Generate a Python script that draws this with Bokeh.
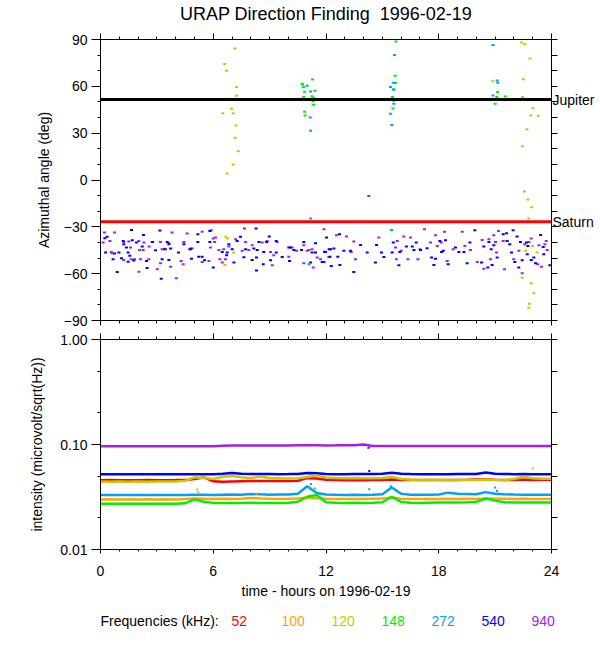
from bokeh.plotting import figure
from bokeh.models import Range1d, LinearAxis, LogAxis, FixedTicker, PrintfTickFormatter, Span, ColumnDataSource
from bokeh.core.properties import value
from bokeh.layouts import column
from bokeh.embed import file_html
from bokeh.resources import INLINE

# ---------------- data ----------------
TITLE = "URAP Direction Finding\u00a0 1996-02-19"
LEGEND_TITLE = "Frequencies (kHz):"
FREQS = ["52", "100", "120", "148", "272", "540", "940"]
COLORS = ["#ff0000", "#ffa500", "#c8c800", "#00ee00", "#00a0ff", "#0000ff", "#a020f0"]
JUPITER_DEG = 51.5
SATURN_DEG = -26.8

ANG_TICKS = [-90, -60, -30, 0, 30, 60, 90]
ANG_MINOR = [-90, -80, -70, -60, -50, -40, -30, -20, -10, 0, 10, 20, 30, 40, 50, 60, 70, 80, 90]
HOUR_TICKS = [0, 6, 12, 18, 24]
HOUR_MINOR = [0, 1, 2, 3, 4, 5, 6, 7, 8, 9, 10, 11, 12, 13, 14, 15, 16, 17, 18, 19, 20, 21, 22, 23, 24]
INT_TICKS = [0.01, 0.1, 1.0]
INT_MINOR = [0.02, 0.05, 0.2, 0.5]

# direction finding points: (hour, azimuth deg)
DF_540 = [
    (1.65, -32.0), (3.16, -32.4), (2.29, -35.2), (5.18, -34.7), (5.82, -32.6), (8.28, -31.1), (8.98, -36.2),
    (0.35, -36.4), (0.23, -37.3), (1.21, -39.0), (1.69, -38.6), (1.92, -40.1), (1.24, -41.2), (2.77, -39.7),
    (3.55, -39.7), (3.64, -41.2), (4.44, -41.2), (5.18, -39.7), (5.82, -39.7), (6.83, -41.2), (7.27, -39.0),
    (7.45, -36.4), (8.43, -39.7), (8.84, -39.7), (9.35, -39.0), (10.02, -43.3), (10.82, -39.7), (11.44, -40.5),
    (12.03, -36.9), (12.17, -44.4), (0.27, -46.5), (0.75, -47.1), (0.98, -46.5), (1.47, -46.5), (1.56, -48.6),
    (1.38, -43.3), (2.22, -42.6), (2.93, -45.0), (3.41, -44.4), (3.73, -43.9), (4.15, -46.5), (4.79, -44.4),
    (5.23, -49.1), (5.41, -49.1), (6.48, -46.1), (6.74, -46.5), (6.71, -48.2), (7.01, -44.4), (7.72, -44.4),
    (8.16, -43.9), (8.34, -44.8), (8.69, -46.1), (9.35, -46.5), (9.67, -49.3), (10.11, -43.3), (10.29, -44.8),
    (10.70, -44.8), (11.26, -46.5), (11.44, -46.5), (11.97, -46.1), (12.21, -49.1), (0.67, -50.8), (1.12, -50.1),
    (1.47, -52.3), (1.77, -51.6), (2.45, -51.9), (3.28, -50.8), (3.64, -51.2), (4.84, -50.4), (5.54, -51.4),
    (6.00, -56.1), (7.10, -52.9), (7.63, -49.5), (8.07, -51.2), (8.30, -49.7), (9.05, -51.4), (8.66, -54.0),
    (10.06, -51.9), (11.18, -52.9), (11.89, -52.5), (0.89, -58.9), (3.23, -63.2), (2.48, -56.4), (8.30, -57.9),
    (12.72, -34.7), (11.92, -45.9), (12.24, -44.4), (12.42, -43.9), (12.63, -49.1), (12.95, -45.4), (13.30, -45.4),
    (11.80, -52.5), (12.28, -55.1), (12.74, -54.4), (13.48, -58.9), (13.84, -41.6), (14.19, -46.5), (14.63, -52.9),
    (14.69, -41.6), (14.95, -46.5), (15.08, -49.3), (15.52, -46.5), (15.58, -40.1), (15.93, -46.1), (15.88, -54.6),
    (16.28, -42.6), (16.59, -42.6), (16.68, -44.8), (16.80, -40.1), (17.03, -44.8), (17.38, -43.7), (17.62, -49.7),
    (17.83, -50.4), (17.74, -54.4), (18.06, -39.0), (18.15, -46.1), (18.24, -45.4), (18.50, -54.0), (18.36, -38.6),
    (18.89, -43.3), (19.07, -46.1), (19.34, -46.1), (19.51, -53.4), (19.66, -40.1), (19.92, -32.2), (20.28, -52.9),
    (20.40, -42.6), (20.67, -39.7), (20.79, -44.4), (20.93, -41.8), (20.61, -56.1), (20.84, -54.4), (21.11, -49.7),
    (21.43, -34.7), (21.61, -34.1), (21.64, -39.0), (21.96, -32.2), (21.78, -41.2), (21.87, -46.5), (22.17, -36.2),
    (22.26, -56.1), (22.35, -39.7), (22.44, -51.4), (22.67, -40.1), (22.74, -42.2), (22.71, -47.6), (22.92, -51.2),
    (23.06, -49.7), (23.15, -53.4), (23.42, -35.2), (23.56, -42.9), (23.59, -47.6), (23.91, -54.6), (22.05, -52.5),
]
DF_940 = [
    (0.21, -33.7), (0.75, -33.7), (3.81, -33.7), (4.61, -34.3), (5.41, -33.2), (5.89, -32.2), (7.66, -31.1),
    (11.89, -31.5), (6.12, -36.9), (0.14, -40.1), (0.50, -39.0), (1.24, -39.7), (1.51, -39.4), (2.04, -39.0),
    (2.31, -40.1), (2.75, -39.7), (3.19, -39.7), (3.64, -40.5), (4.44, -39.7), (4.79, -43.9), (6.07, -39.7),
    (6.00, -37.5), (6.83, -42.6), (7.19, -37.9), (7.72, -39.7), (8.07, -41.8), (8.60, -40.1), (8.87, -39.0),
    (9.40, -39.7), (10.20, -43.3), (10.82, -41.8), (11.09, -44.8), (11.26, -44.4), (0.57, -46.1), (0.62, -46.9),
    (1.60, -43.3), (2.08, -44.8), (2.27, -44.8), (2.59, -42.6), (3.28, -44.4), (3.46, -44.4), (4.74, -44.4),
    (4.88, -43.9), (5.85, -43.3), (6.30, -44.8), (6.56, -44.4), (6.65, -50.8), (7.54, -45.4), (7.89, -44.8),
    (9.05, -46.1), (9.22, -48.2), (10.02, -49.1), (10.43, -45.4), (11.00, -45.4), (11.53, -49.7), (11.71, -50.8),
    (12.15, -49.3), (1.24, -51.2), (1.63, -50.8), (1.81, -50.8), (2.13, -50.8), (2.57, -50.8), (3.19, -53.4),
    (3.73, -55.5), (4.29, -51.9), (4.40, -54.0), (5.41, -52.5), (5.77, -51.9), (6.35, -50.8), (6.48, -52.9),
    (9.14, -54.6), (10.82, -53.4), (11.32, -56.1), (2.04, -58.7), (4.04, -63.0), (3.02, -57.2),
    (12.56, -35.4), (13.09, -36.2), (13.48, -39.4), (13.34, -46.1), (13.57, -50.8), (14.81, -36.9), (15.79, -39.0),
    (15.75, -50.8), (15.70, -43.3), (16.00, -45.4), (16.14, -36.2), (16.50, -36.9), (16.36, -50.8), (16.89, -50.8),
    (17.00, -44.4), (17.24, -31.5), (17.83, -35.4), (18.31, -33.2), (17.56, -40.1), (17.92, -42.2), (18.13, -40.1),
    (18.45, -51.9), (18.77, -44.4), (19.25, -33.2), (19.39, -42.2), (19.69, -44.8), (20.05, -52.5), (20.31, -38.4),
    (20.40, -56.8), (20.67, -37.9), (20.76, -50.8), (20.93, -35.4), (21.02, -39.7), (21.18, -32.6), (21.07, -46.5),
    (21.43, -39.0), (21.50, -57.2), (21.99, -50.8), (22.26, -45.4), (22.44, -59.8), (22.57, -41.2), (22.80, -39.7),
    (22.92, -37.5), (23.33, -41.8), (23.65, -41.2), (23.77, -44.8), (23.72, -39.0), (23.27, -54.0), (23.47, -55.5),
    (14.28, -10.2),
]
DF_120 = [
    (7.15, 84.2), (6.60, 74.3), (6.71, 70.0), (7.24, 59.5), (7.24, 54.0), (6.97, 45.6), (6.51, 42.8), (7.06, 42.8),
    (7.20, 34.9), (7.17, 27.0), (7.33, 18.4), (7.06, 10.0), (6.74, 4.2), (6.67, -36.4), (6.76, -37.5), (7.09, -46.5),
    (6.62, -54.4), (20.88, 63.2), (22.41, 88.0), (22.58, 87.0), (22.85, 77.8), (22.50, 64.5), (22.46, 53.1),
    (23.01, 46.0), (22.90, 41.3), (23.29, 41.1), (22.69, 32.5), (22.46, 21.6), (22.56, -7.3), (22.74, -12.5),
    (22.94, -17.4), (22.79, -24.7), (22.44, -62.6), (22.92, -66.2), (23.06, -72.6), (22.82, -79.3), (22.79, -81.9),
    (22.62, -45.4), (23.24, -46.5), (22.99, -42.2),
]
DF_148 = [
    (10.75, 61.2), (10.80, 59.5), (11.28, 64.3), (10.86, 56.6), (11.41, 57.2), (10.82, 53.1), (11.25, 53.7),
    (11.35, 52.7), (11.31, 50.5), (11.34, 48.2), (10.86, 43.7), (10.89, 41.3), (10.73, 61.7), (15.72, 88.7),
    (15.68, 66.8), (15.70, 62.1), (15.58, 58.2), (15.54, 53.1), (15.61, 50.8), (15.56, 45.8), (21.13, 56.3),
    (21.09, 53.1), (21.54, 53.5), (21.00, 48.8),
]
DF_272 = [
    (11.00, 60.4), (11.18, 56.7), (11.13, 51.8), (11.16, 40.0), (11.18, 31.5), (11.18, -24.7), (11.09, -54.0),
    (15.65, 80.1), (15.58, 62.3), (15.43, 59.5), (15.61, 57.8), (15.61, 48.8), (15.43, 42.4), (15.50, 35.3),
    (15.49, -32.1), (20.89, 86.5), (21.11, 63.8), (21.14, 62.3), (20.88, 54.2),
]

# intensity series (microvolt/sqrt(Hz)) every half hour
HOURS = [0.0, 0.5, 1.0, 1.5, 2.0, 2.5, 3.0, 3.5, 4.0, 4.5, 5.0, 5.5,
         6.0, 6.5, 7.0, 7.5, 8.0, 8.5, 9.0, 9.5, 10.0, 10.5, 11.0, 11.5,
         12.0, 12.5, 13.0, 13.5, 14.0, 14.5, 15.0, 15.5, 16.0, 16.5, 17.0, 17.5,
         18.0, 18.5, 19.0, 19.5, 20.0, 20.5, 21.0, 21.5, 22.0, 22.5, 23.0, 23.5, 24.0]
I_52 = [0.0457, 0.0458, 0.0457, 0.0456, 0.0457, 0.0458, 0.0457, 0.0457, 0.0458, 0.0460, 0.0468, 0.0486,
        0.0446, 0.0443, 0.0445, 0.0447, 0.0448, 0.0449, 0.0448, 0.0449, 0.0450, 0.0452, 0.0478, 0.0474,
        0.0462, 0.0458, 0.0457, 0.0458, 0.0457, 0.0458, 0.0460, 0.0465, 0.0460, 0.0458, 0.0459, 0.0458,
        0.0459, 0.0458, 0.0460, 0.0461, 0.0463, 0.0465, 0.0462, 0.0460, 0.0459, 0.0463, 0.0460, 0.0461, 0.0461]
I_100 = [0.0300, 0.0301, 0.0300, 0.0301, 0.0300, 0.0301, 0.0300, 0.0301, 0.0300, 0.0302, 0.0306, 0.0304,
         0.0303, 0.0304, 0.0303, 0.0305, 0.0310, 0.0306, 0.0304, 0.0303, 0.0304, 0.0306, 0.0312, 0.0308,
         0.0304, 0.0303, 0.0302, 0.0303, 0.0302, 0.0304, 0.0306, 0.0312, 0.0305, 0.0303, 0.0302, 0.0303,
         0.0303, 0.0304, 0.0303, 0.0304, 0.0303, 0.0306, 0.0305, 0.0304, 0.0303, 0.0304, 0.0303, 0.0303, 0.0303]
I_120 = [0.0444, 0.0443, 0.0444, 0.0443, 0.0444, 0.0443, 0.0444, 0.0445, 0.0445, 0.0452, 0.0487, 0.0480,
         0.0470, 0.0492, 0.0500, 0.0488, 0.0478, 0.0496, 0.0480, 0.0476, 0.0474, 0.0478, 0.0490, 0.0508,
         0.0484, 0.0480, 0.0478, 0.0479, 0.0478, 0.0476, 0.0480, 0.0492, 0.0470, 0.0462, 0.0460, 0.0458,
         0.0458, 0.0457, 0.0459, 0.0458, 0.0460, 0.0462, 0.0458, 0.0457, 0.0470, 0.0492, 0.0478, 0.0472, 0.0473]
I_148 = [0.0272, 0.0273, 0.0272, 0.0273, 0.0272, 0.0273, 0.0272, 0.0273, 0.0273, 0.0275, 0.0300, 0.0285,
         0.0278, 0.0277, 0.0278, 0.0277, 0.0279, 0.0278, 0.0277, 0.0278, 0.0279, 0.0285, 0.0318, 0.0330,
         0.0282, 0.0279, 0.0278, 0.0279, 0.0278, 0.0279, 0.0282, 0.0318, 0.0284, 0.0279, 0.0278, 0.0279,
         0.0280, 0.0280, 0.0281, 0.0282, 0.0284, 0.0306, 0.0292, 0.0282, 0.0280, 0.0281, 0.0280, 0.0280, 0.0280]
I_272 = [0.0330, 0.0331, 0.0330, 0.0331, 0.0330, 0.0331, 0.0330, 0.0331, 0.0330, 0.0331, 0.0333, 0.0332,
         0.0331, 0.0333, 0.0334, 0.0333, 0.0338, 0.0335, 0.0333, 0.0334, 0.0334, 0.0340, 0.0400, 0.0345,
         0.0334, 0.0332, 0.0331, 0.0332, 0.0331, 0.0333, 0.0336, 0.0390, 0.0340, 0.0333, 0.0332, 0.0333,
         0.0334, 0.0348, 0.0340, 0.0338, 0.0336, 0.0352, 0.0340, 0.0336, 0.0334, 0.0333, 0.0332, 0.0332, 0.0332]
I_540 = [0.0521, 0.0522, 0.0521, 0.0521, 0.0522, 0.0521, 0.0521, 0.0522, 0.0521, 0.0521, 0.0522, 0.0521,
         0.0522, 0.0526, 0.0534, 0.0527, 0.0524, 0.0523, 0.0523, 0.0522, 0.0523, 0.0525, 0.0535, 0.0532,
         0.0524, 0.0522, 0.0522, 0.0523, 0.0524, 0.0523, 0.0526, 0.0538, 0.0527, 0.0523, 0.0522, 0.0522,
         0.0522, 0.0522, 0.0523, 0.0523, 0.0524, 0.0540, 0.0526, 0.0523, 0.0522, 0.0523, 0.0522, 0.0522, 0.0522]
I_940 = [0.0962, 0.0963, 0.0962, 0.0963, 0.0962, 0.0963, 0.0962, 0.0963, 0.0963, 0.0962, 0.0963, 0.0964,
         0.0964, 0.0975, 0.0978, 0.0976, 0.0977, 0.0978, 0.0977, 0.0978, 0.0979, 0.0981, 0.0982, 0.0981,
         0.0980, 0.0981, 0.0984, 0.0986, 0.0998, 0.0970, 0.0966, 0.0966, 0.0965, 0.0966, 0.0965, 0.0966,
         0.0966, 0.0965, 0.0966, 0.0966, 0.0967, 0.0966, 0.0966, 0.0967, 0.0966, 0.0967, 0.0968, 0.0968, 0.0968]
# isolated intensity samples: (hour, value)
OUT_940 = [(14.25, 0.0925), (14.3, 0.0940)]
OUT_540 = [(14.3, 0.0560)]
OUT_272 = [(14.3, 0.0375), (11.2, 0.0420), (15.45, 0.0400), (21.0, 0.0390), (21.1, 0.0360)]
OUT_100 = [(5.15, 0.0372), (5.2, 0.0350), (8.3, 0.0335)]
OUT_120 = [(23.0, 0.0590)]
OUT_148 = [(11.4, 0.0380)]

FONT = "Liberation Sans"
FS = "14px"


def style_axis(ax, major_out, minor_out, labels):
    ax.axis_line_color = "black"
    ax.axis_line_width = 1
    ax.major_tick_line_color = "black"
    ax.minor_tick_line_color = "black"
    ax.major_tick_in = 0
    ax.minor_tick_in = 0
    ax.major_tick_out = major_out
    ax.minor_tick_out = minor_out
    if labels:
        ax.major_label_text_font = FONT
        ax.major_label_text_font_size = FS
        ax.major_label_text_color = "black"
        ax.axis_label_text_font = FONT
        ax.axis_label_text_font_size = FS
        ax.axis_label_text_font_style = "normal"
        ax.axis_label_text_color = "black"
    else:
        ax.major_label_text_font_size = "1px"
        ax.major_label_text_alpha = 0
        ax.major_label_standoff = 0


def base_fig(y_range, y_type, fh, top, bottom):
    p = figure(frame_width=451, frame_height=fh, x_range=Range1d(0, 24), y_range=y_range,
               y_axis_type=y_type, toolbar_location=None, output_backend="svg", title=None,
               min_border_left=100, min_border_right=49, min_border_top=top, min_border_bottom=bottom)
    p.xgrid.visible = False
    p.ygrid.visible = False
    p.outline_line_color = "black"
    p.background_fill_color = "white"
    p.border_fill_color = "white"
    return p


def text_fig(fw, fh, right):
    p = figure(frame_width=fw, frame_height=fh, x_range=Range1d(0, 1), y_range=Range1d(0, 1),
               x_axis_type=None, y_axis_type=None, toolbar_location=None, output_backend="svg",
               title=None, min_border_left=100, min_border_right=right, min_border_top=0, min_border_bottom=0)
    p.xgrid.visible = False
    p.ygrid.visible = False
    p.outline_line_color = None
    p.background_fill_color = "white"
    p.border_fill_color = "white"
    return p


# ---------------- title ----------------
pt = text_fig(451, 27, 49)
pt.text(x=[0.5], y=[0.5], text=[TITLE], text_align="center", text_baseline="middle",
        text_font=value(FONT), text_font_size=value("18px"), text_color="black")

# ---------------- top panel ----------------
p1 = base_fig(Range1d(-90, 90), "linear", 281, 12, 10)
p1.yaxis[0].ticker = FixedTicker(ticks=ANG_TICKS, minor_ticks=ANG_MINOR)
p1.xaxis[0].ticker = FixedTicker(ticks=HOUR_TICKS, minor_ticks=HOUR_MINOR)
style_axis(p1.yaxis[0], 9, 3, True)
p1.yaxis[0].axis_label = "Azimuthal angle (deg)"
p1.yaxis[0].axis_label_standoff = 9
p1.yaxis[0].major_label_standoff = 4
style_axis(p1.xaxis[0], 5, 3, False)
ax = LinearAxis(ticker=FixedTicker(ticks=[JUPITER_DEG, SATURN_DEG], minor_ticks=ANG_MINOR),
                major_label_overrides={JUPITER_DEG: "Jupiter", SATURN_DEG: "Saturn"})
style_axis(ax, 0, 6, True)
ax.major_label_standoff = -5
p1.add_layout(ax, "right")
ax = LinearAxis(ticker=FixedTicker(ticks=HOUR_TICKS, minor_ticks=HOUR_MINOR))
style_axis(ax, 6, 3, False)
p1.add_layout(ax, "above")

p1.add_layout(Span(location=JUPITER_DEG, dimension="width", line_color="black", line_width=3))
p1.add_layout(Span(location=SATURN_DEG, dimension="width", line_color="#ff0000", line_width=3))

for pts, col in ((DF_940, COLORS[6]), (DF_540, COLORS[5]), (DF_120, COLORS[2]),
                 (DF_148, COLORS[3]), (DF_272, COLORS[4])):
    src = ColumnDataSource(dict(t=[q[0] for q in pts], a=[q[1] for q in pts]))
    p1.rect(x="t", y="a", width=3, height=2, width_units="screen", height_units="screen",
            fill_color=col, line_color=None, source=src)

# ---------------- bottom panel ----------------
p2 = base_fig(Range1d(0.01, 1.0), "log", 210, 9, 58)
p2.yaxis[0].ticker = FixedTicker(ticks=INT_TICKS, minor_ticks=INT_MINOR)
p2.yaxis[0].formatter = PrintfTickFormatter(format="%.2f")
p2.xaxis[0].ticker = FixedTicker(ticks=HOUR_TICKS, minor_ticks=HOUR_MINOR)
style_axis(p2.yaxis[0], 9, 3, True)
p2.yaxis[0].axis_label = "intensity (microvolt/sqrt(Hz))"
p2.yaxis[0].axis_label_standoff = 12
p2.yaxis[0].major_label_standoff = 4
style_axis(p2.xaxis[0], 4, 2, True)
p2.xaxis[0].axis_label = "time - hours on 1996-02-19"
p2.xaxis[0].major_label_standoff = 12
p2.xaxis[0].axis_label_standoff = 4
ax = LogAxis(ticker=FixedTicker(ticks=INT_TICKS, minor_ticks=INT_MINOR))
style_axis(ax, 6, 6, False)
p2.add_layout(ax, "right")
ax = LinearAxis(ticker=FixedTicker(ticks=HOUR_TICKS, minor_ticks=HOUR_MINOR))
style_axis(ax, 6, 3, False)
p2.add_layout(ax, "above")

series = [I_52, I_100, I_120, I_148, I_272, I_540, I_940]
outs = [[], OUT_100, OUT_120, OUT_148, OUT_272, OUT_540, OUT_940]
for order in (6, 5, 0, 2, 4, 1, 3):
    p2.line(HOURS, series[order], line_color=COLORS[order], line_width=2.5)
    if outs[order]:
        p2.rect(x=[q[0] for q in outs[order]], y=[q[1] for q in outs[order]], width=2, height=2,
                width_units="screen", height_units="screen", fill_color=COLORS[order], line_color=None)

# ---------------- frequency legend ----------------
pl = text_fig(500, 26, 0)
leg = ColumnDataSource(dict(
    x=[0.0] * (len(FREQS) + 1),
    y=[0.5] * (len(FREQS) + 1),
    text=[LEGEND_TITLE] + FREQS,
    color=["black"] + COLORS,
    xoff=[0] + [131 + 50 * i for i in range(len(FREQS))],
))
pl.text(x="x", y="y", text="text", text_color="color", x_offset="xoff", text_baseline="middle",
        text_align="left", text_font=value(FONT), text_font_size=value(FS), source=leg)

layout = column(pt, p1, p2, pl)
open("out.html", "w").write(file_html(layout, INLINE, "URAP Direction Finding"))
